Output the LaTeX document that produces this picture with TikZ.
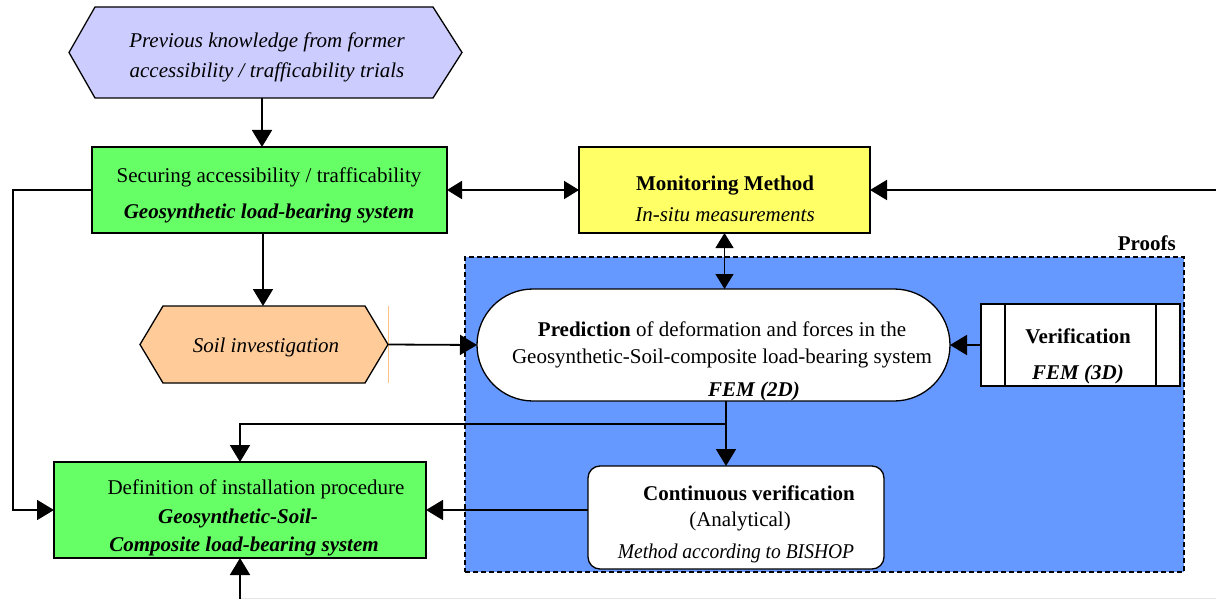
\documentclass[tikz,border=0pt]{standalone}
\usepackage{fontspec}
\setmainfont{Liberation Serif}
\usetikzlibrary{arrows.meta,shapes.misc,calc}
\newcommand\dgfont{\fontsize{21}{21}\selectfont}
\definecolor{lav}{HTML}{CCCCFF}
\definecolor{grn}{HTML}{66FF66}
\definecolor{yel}{HTML}{FFFF66}
\definecolor{org}{HTML}{FFCC99}
\definecolor{blu}{HTML}{6699FF}
\tikzset{
  conn/.style={line width=1.8pt,-{Triangle[length=17pt,width=20pt]}},
  dconn/.style={line width=1.3pt,{Triangle[length=15pt,width=18pt]}-{Triangle[length=15pt,width=18pt]}},
  box/.style={draw,line width=1.3pt,inner sep=0pt,outer sep=0pt},
  txt/.style={align=center,inner sep=0pt,font=\dgfont}
}
\begin{document}
\begin{tikzpicture}[x=1pt,y=-1pt]
\useasboundingbox (0,0) rectangle (1216,599);
% Proofs area
\node[box,dashed,dash pattern=on 5pt off 3pt,fill=blu,minimum width=719pt,minimum height=315pt] (proofs) at (824.5,414.5) {};
\node[txt,font=\dgfont\bfseries,anchor=base east] (proofl) at (1176,250) {Proofs};
% Previous knowledge hexagon
\node[inner sep=0pt,outer sep=0pt,minimum width=393pt,minimum height=91pt] (prev) at (265.5,52.5) {};
\draw[line width=1.3pt,fill=lav] ([xshift=26pt]prev.north west) -- ([xshift=-29pt]prev.north east) -- (prev.east) -- ([xshift=-29pt]prev.south east) -- ([xshift=26pt]prev.south west) -- (prev.west) -- cycle;
\node[txt] (prevt) at (267,57) {\itshape Previous knowledge from former\\[9pt]\itshape accessibility / trafficability trials};
% Green box 1
\node[box,fill=grn,minimum width=355pt,minimum height=86pt] (g1) at (269.5,190) {};
\node[txt] (g1t) at (269,195) {Securing accessibility / trafficability\\[15pt]\textbf{\textit{Geosynthetic load-bearing system}}};
% Monitoring
\node[box,fill=yel,minimum width=291pt,minimum height=86pt] (mon) at (724.5,190) {};
\node[txt] (mont) at (725,198.5) {\textbf{Monitoring Method}\\[10pt]\textit{In-situ measurements}};
% Soil investigation hexagon
\node[inner sep=0pt,outer sep=0pt,minimum width=248pt,minimum height=77pt] (soil) at (264,344.5) {};
\draw[line width=1.3pt,fill=org] ([xshift=23pt]soil.north west) -- ([xshift=-23pt]soil.north east) -- (soil.east) -- ([xshift=-23pt]soil.south east) -- ([xshift=23pt]soil.south west) -- (soil.west) -- cycle;
\draw[org!85!orange,line width=1pt] (soil.north east) -- (soil.south east);
\node[txt] (soilt) at (266,347) {\itshape Soil investigation};
% Prediction
\node[rounded rectangle,draw,line width=1.3pt,fill=white,inner sep=0pt,outer sep=0pt,minimum width=473pt,minimum height=112pt] (pred) at (713.5,345) {};
\node[txt] (predt) at (722,361) {\textbf{Prediction} of deformation and forces in the\\[6pt]Geosynthetic-Soil-composite load-bearing system\\[12pt]\hspace*{64pt}\textbf{\textit{FEM (2D)}}};
% Verification
\node[box,fill=white,minimum width=199pt,minimum height=82pt] (ver) at (1080.5,345) {};
\draw[line width=1.3pt] ([xshift=24pt]ver.north west) -- ([xshift=24pt]ver.south west);
\draw[line width=1.3pt] ([xshift=-24pt]ver.north east) -- ([xshift=-24pt]ver.south east);
\node[txt] (vert) at (1078,356) {\textbf{Verification}\\[15pt]\textbf{\textit{FEM (3D)}}};
% Continuous verification
\node[box,rounded corners=12pt,fill=white,minimum width=296pt,minimum height=103pt] (cv) at (736,517.5) {};
\node[txt] (cvt) at (740,524) {\hspace*{18pt}\textbf{Continuous verification}\\[5pt](Analytical)\\[11pt]\hspace*{-8pt}\scalebox{0.93}[1]{\textit{Method according to BISHOP}}};
% Green box 2
\node[box,fill=grn,minimum width=372pt,minimum height=96pt] (g2) at (240,510) {};
\node[txt] (g2t) at (244,518) {\hspace*{24pt}Definition of installation procedure\\[8pt]\hspace*{-12pt}\textbf{\textit{Geosynthetic-Soil-}}\\[7pt]\textbf{\textit{Composite load-bearing system}}};
% Connectors
\coordinate (pa) at ([xshift=-3.5pt]prev.south);
\draw[conn] (pa) -- (pa |- g1.north);
\coordinate (ga) at ([xshift=-6.5pt]g1.south);
\draw[conn] (ga) -- (ga |- soil.north);
\draw[conn] (soil.east) -- (pred.west);
\draw[dconn,line width=1.8pt] (g1.east) -- (mon.west);
\coordinate (rin) at (1216,190);
\draw[conn] (rin) -- (mon.east);
\draw[dconn] (mon.south) -- (mon.south |- pred.north);
\draw[conn] (ver.west) -- (pred.east);
\coordinate (pb) at ([xshift=12.5pt]pred.south);
\draw[conn] (pb) -- (pb |- cv.north);
\coordinate (jn) at (726,424);
\draw[conn] (pb) -- (jn) -| (g2.north);
\draw[conn] (cv.west |- g2.east) -- (g2.east);
\coordinate (lx) at (13,190);
\draw[conn] (g1.west) -- (lx) |- (g2.west);
\coordinate (bot) at (240,599);
\coordinate (br) at (1216,598);
\draw[gray!20,line width=1pt] (bot |- br) -- (br);
\draw[conn] (bot) -- (g2.south);
\end{tikzpicture}
\end{document}
